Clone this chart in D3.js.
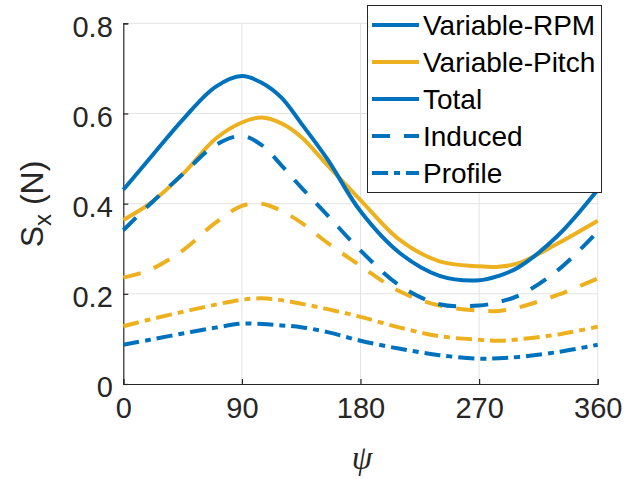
<!DOCTYPE html>
<html>
<head>
<meta charset="utf-8">
<script src="https://d3js.org/d3.v7.min.js"></script>
<style>
  body { margin: 0; background: #fff; }
  svg { display: block; }
  .tick text { font-family: "Liberation Sans", Arial, sans-serif; fill: #262626; }
</style>
</head>
<body>
<svg width="643" height="479"></svg>
<script>
// azimuth samples (deg)
var psi = [0, 20, 45, 70, 90, 105, 120, 135, 155, 180, 210, 240, 270, 285, 300, 330, 360];

// variable-RPM (blue)
var rpmTotal   = [0.431, 0.500, 0.586, 0.659, 0.683, 0.668, 0.635, 0.578, 0.498, 0.383, 0.290, 0.240, 0.230, 0.240, 0.259, 0.330, 0.431];
var rpmInduced = [0.341, 0.398, 0.465, 0.530, 0.550, 0.530, 0.485, 0.436, 0.374, 0.296, 0.218, 0.177, 0.174, 0.182, 0.196, 0.253, 0.338];
var rpmProfile = [0.087, 0.098, 0.112, 0.125, 0.134, 0.133, 0.130, 0.126, 0.115, 0.096, 0.078, 0.064, 0.056, 0.057, 0.060, 0.071, 0.087];

// variable-pitch (orange)
var pitTotal   = [0.364, 0.400, 0.465, 0.544, 0.580, 0.591, 0.578, 0.548, 0.485, 0.408, 0.319, 0.272, 0.261, 0.260, 0.268, 0.312, 0.362];
var pitInduced = [0.236, 0.253, 0.296, 0.358, 0.395, 0.400, 0.384, 0.358, 0.313, 0.262, 0.205, 0.174, 0.163, 0.162, 0.170, 0.198, 0.234];
var pitProfile = [0.128, 0.143, 0.160, 0.176, 0.187, 0.190, 0.186, 0.178, 0.166, 0.149, 0.125, 0.106, 0.098, 0.096, 0.099, 0.110, 0.127];

var xTicks = [0, 90, 180, 270, 360];
var yTicks = [0, 0.2, 0.4, 0.6, 0.8];
var legendLabels = ["Variable-RPM", "Variable-Pitch", "Total", "Induced", "Profile"];

var blue = "#0072BD", orange = "#EDB120";
var dashInduced = "18,14", dashProfile = "16,6,6,6";

var svg = d3.select("svg"),
    margin = {top: 23.3, right: 45.3, bottom: 95, left: 123.3},
    width = +svg.attr("width") - margin.left - margin.right,
    height = +svg.attr("height") - margin.top - margin.bottom,
    g = svg.append("g").attr("transform", "translate(" + margin.left + "," + margin.top + ")");

var x = d3.scaleLinear().domain([0, 360]).range([0, width]);
var y = d3.scaleLinear().domain([0, 0.8]).range([height, 0]);

// grid
g.append("g").selectAll("line").data(xTicks.slice(1)).enter().append("line")
  .attr("x1", d => x(d)).attr("x2", d => x(d))
  .attr("y1", 0).attr("y2", height)
  .attr("stroke", "#e3e3e3").attr("stroke-width", 1);
g.append("g").selectAll("line").data(yTicks.slice(1)).enter().append("line")
  .attr("y1", d => y(d)).attr("y2", d => y(d))
  .attr("x1", 0).attr("x2", width)
  .attr("stroke", "#e3e3e3").attr("stroke-width", 1);

// axes, inward ticks like matlab
var xAxis = d3.axisBottom(x).tickValues(xTicks).tickSize(-5).tickPadding(13).tickFormat(d3.format("d"));
var yAxis = d3.axisLeft(y).tickValues(yTicks).tickSize(-5).tickPadding(10.5).tickFormat(d => d === 0 ? "0" : d3.format(".1f")(d));

var gx = g.append("g").attr("transform", "translate(0," + height + ")").call(xAxis);
var gy = g.append("g").call(yAxis);
[gx, gy].forEach(function(a) {
  a.select(".domain").attr("stroke", "#262626").attr("stroke-width", 1.2);
  a.selectAll(".tick line").attr("stroke", "#262626").attr("stroke-width", 1.2);
  a.selectAll(".tick text").style("font-size", "29px");
});
gx.selectAll(".tick text").attr("dy", "0.71em");
gy.selectAll(".tick text").attr("dy", "0.44em");

// curves
var line = d3.line().x((d, i) => x(psi[i])).y(d => y(d)).curve(d3.curveCatmullRom.alpha(0.5));

var series = [
  {v: pitProfile, c: orange, dash: dashProfile},
  {v: pitInduced, c: orange, dash: dashInduced},
  {v: pitTotal, c: orange, dash: null},
  {v: rpmProfile, c: blue, dash: dashProfile},
  {v: rpmInduced, c: blue, dash: dashInduced},
  {v: rpmTotal, c: blue, dash: null}
];

g.append("g").selectAll("path").data(series).enter().append("path")
  .attr("d", d => line(d.v))
  .attr("fill", "none")
  .attr("stroke", d => d.c)
  .attr("stroke-width", 4)
  .attr("stroke-dasharray", d => d.dash);

// axis labels
var ylab = svg.append("text")
  .attr("transform", "translate(43,204) rotate(-90)")
  .attr("text-anchor", "middle")
  .style("font-family", "Liberation Sans, Arial, sans-serif")
  .style("font-size", "32px")
  .attr("fill", "#262626");
ylab.append("tspan").text("S");
ylab.append("tspan").attr("dy", 8).style("font-size", "24px").text("x");
ylab.append("tspan").attr("dy", -8).text(" (N)");

svg.append("text")
  .attr("x", 362).attr("y", 469)
  .attr("text-anchor", "middle")
  .style("font-family", "Liberation Serif, serif")
  .style("font-style", "italic")
  .style("font-size", "33px")
  .attr("fill", "#262626")
  .text("ψ");

// legend
var legendStyle = [
  {c: blue, dash: null},
  {c: orange, dash: null},
  {c: blue, dash: null},
  {c: blue, dash: dashInduced},
  {c: blue, dash: dashProfile}
];
var lg = svg.append("g");
lg.append("rect")
  .attr("x", 367.5).attr("y", 5.5).attr("width", 234).attr("height", 187)
  .attr("fill", "#fff").attr("stroke", "#262626").attr("stroke-width", 1);
var rows = lg.selectAll("g.row").data(legendLabels).enter().append("g")
  .attr("class", "row")
  .attr("transform", (d, i) => "translate(0," + (25 + i * 37) + ")");
rows.append("line")
  .attr("x1", 372).attr("x2", 419).attr("y1", 0).attr("y2", 0)
  .attr("stroke", (d, i) => legendStyle[i].c)
  .attr("stroke-width", 4)
  .attr("stroke-dasharray", (d, i) => legendStyle[i].dash);
rows.append("text")
  .attr("x", 423).attr("dy", "0.37em")
  .style("font-family", "Liberation Sans, Arial, sans-serif")
  .style("font-size", "28px")
  .attr("fill", "#000")
  .text(d => d);
</script>
</body>
</html>
